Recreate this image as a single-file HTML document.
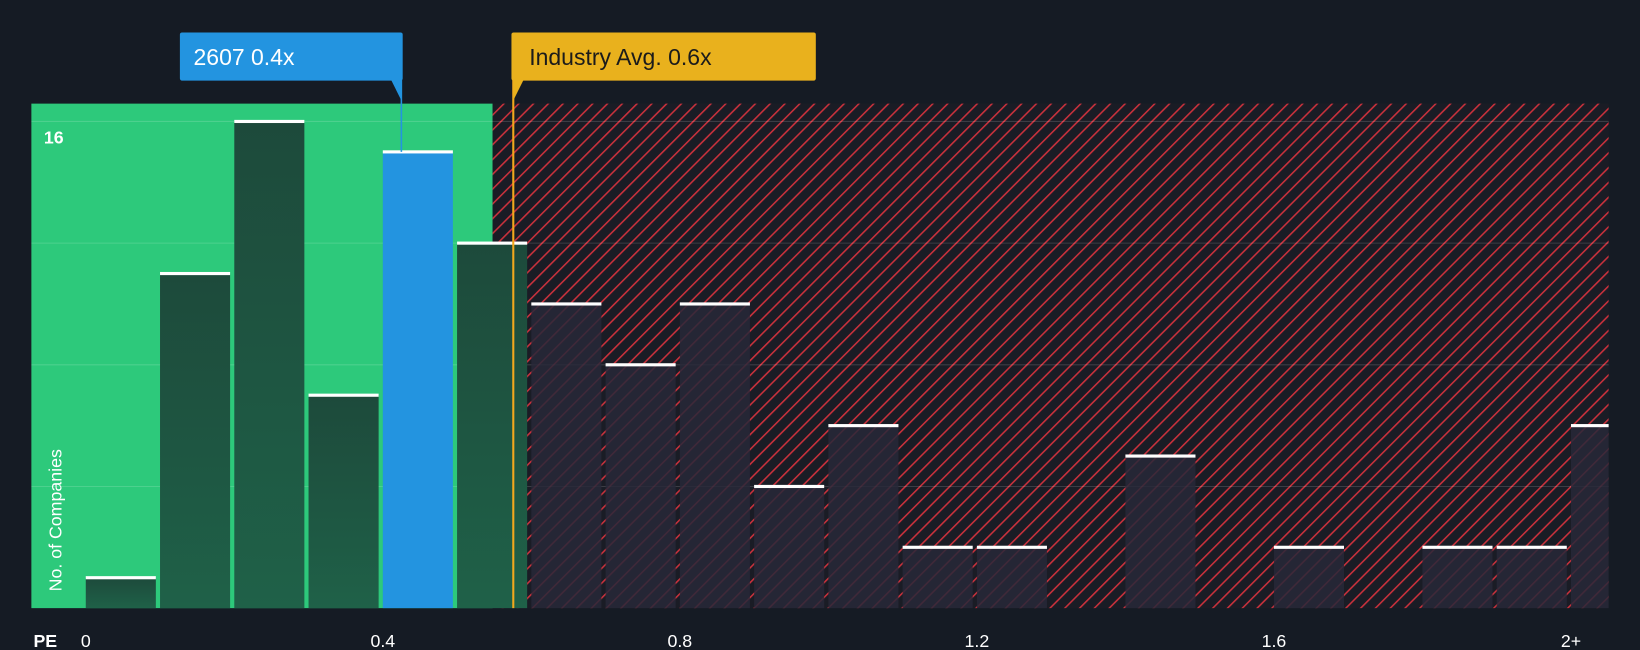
<!DOCTYPE html>
<html><head><meta charset="utf-8"><style>
html,body{margin:0;padding:0;background:#151b24;}
svg{display:block;font-family:"Liberation Sans",sans-serif;}
</style></head><body>
<svg id="chart" width="1640" height="650" viewBox="0 0 1568 621" preserveAspectRatio="none" xmlns="http://www.w3.org/2000/svg">
<defs>
<pattern id="hatch" patternUnits="userSpaceOnUse" width="10" height="10" patternTransform="rotate(45)">
<rect width="10" height="10" fill="#1a1c25"/>
<rect width="1.5" height="10" fill="#c9313c"/>
</pattern>
<linearGradient id="gb" x1="0" y1="0" x2="0" y2="1"><stop offset="0" stop-color="#1d4a3b"/><stop offset="1" stop-color="#1f6148"/></linearGradient>
<clipPath id="plotclip"><rect x="30" y="0" width="1508" height="621"/></clipPath>
</defs>
<rect x="0" y="0" width="1568" height="621" fill="#151b24"/>
<g id="bg"></g>
<g id="grid"></g>
<g id="bars" clip-path="url(#plotclip)"></g>
<g id="overlay"></g>
<text x="42" y="137" fill="#ffffff" font-size="17" font-weight="bold">16</text>
<text transform="translate(59,565) rotate(-90)" fill="#ffffff" font-size="17">No. of Companies</text>
<text x="32" y="618" fill="#ffffff" font-size="17" font-weight="bold">PE</text>
<g id="ticks"></g>
</svg>
<script>
const categories=["0","0.1","0.2","0.3","0.4","0.5","0.6","0.7","0.8","0.9","1.0","1.1","1.2","1.3","1.4","1.5","1.6","1.7","1.8","1.9","2+"];
const counts=[1,11,16,7,15,12,10,8,10,4,6,2,2,0,5,0,2,0,2,2,6];
const tickValues=[0,0.4,0.8,1.2,1.6,2.0];
const tickLabels=["0","0.4","0.8","1.2","1.6","2+"];
const gridValues=[4,8,12,16];
const companyPE=0.425;
const companyBin=4;
const industryAvg=0.575;
const NS="http://www.w3.org/2000/svg";
const X0=82,PX=710,BASE=581,UNIT=29.06,BW=67,TOP=99,LEFT=30,RIGHT=1538,GREEN_END=471;
const xs=v=>X0+v*PX, ys=v=>BASE-v*UNIT;
function mk(t,a,p){const e=document.createElementNS(NS,t);for(const k in a)e.setAttribute(k,a[k]);p.appendChild(e);return e;}
const bg=document.getElementById('bg');
let g1=mk('rect',{x:LEFT,y:TOP,width:GREEN_END-LEFT,height:BASE-TOP,fill:'#2dc97b'},bg);


let r1=mk('rect',{x:GREEN_END,y:TOP,width:RIGHT-GREEN_END,height:BASE-TOP,fill:'url(#hatch)'},bg);


const grid=document.getElementById('grid');
gridValues.forEach(v=>{const l=mk('line',{x1:LEFT,x2:RIGHT,y1:ys(v),y2:ys(v),stroke:'rgba(255,255,255,0.15)','stroke-width':1},grid);

});
const bars=document.getElementById('bars');
counts.forEach((c,i)=>{if(c<=0)return;const x=xs(i*0.1);const green=x<GREEN_END;
const fill=i===companyBin?'#2394e0':(green?'url(#gb)':'rgba(40,40,56,0.85)');
const b=mk('rect',{x:x,y:ys(c),width:BW,height:BASE-ys(c),fill:fill},bars);


const cap=mk('rect',{x:x,y:ys(c)-1.5,width:BW,height:3,fill:'#ffffff'},bars);

});
const ov=document.getElementById('overlay');
const cx=xs(companyPE);
let cl=mk('line',{x1:cx,x2:cx,y1:70,y2:ys(counts[companyBin]),stroke:'#2394e0','stroke-width':1.5},ov);


let cb=mk('rect',{x:172,y:31,width:213,height:46,rx:2,fill:'#2394e0'},ov);


mk('polygon',{points:`${cx-10},76 ${cx},76 ${cx},96`,fill:'#2394e0'},ov);
let ct=mk('text',{x:185,y:62,fill:'#fff','font-size':22},ov);ct.textContent='2607 0.4x';


const ix=xs(industryAvg)+0.5;
let il=mk('line',{x1:ix,x2:ix,y1:70,y2:BASE,stroke:'#f2a81d','stroke-width':2},ov);


let ib=mk('rect',{x:489,y:31,width:291,height:46,rx:2,fill:'#e9b11d'},ov);


mk('polygon',{points:`${ix},76 ${ix+10},76 ${ix},96`,fill:'#e9b11d'},ov);
let it=mk('text',{x:506,y:62,fill:'#1b1b1b','font-size':22},ov);it.textContent='Industry Avg. 0.6x';


const tk=document.getElementById('ticks');
tickValues.forEach((v,i)=>{const t=mk('text',{x:xs(v),y:618,fill:'#ffffff','font-size':17,'text-anchor':'middle'},tk);t.textContent=tickLabels[i];

});
</script>
</body></html>
